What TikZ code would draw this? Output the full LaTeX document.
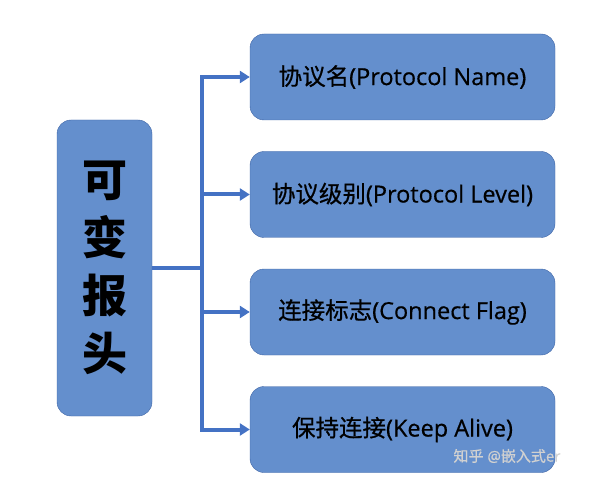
\documentclass[tikz,border=0pt]{standalone}
\usepackage{fontspec}
\setmainfont{Open Sans}[FakeBold=0.5]
\newfontfamily\cjk{Noto Sans CJK SC}[FakeBold=0.7]
\newfontfamily\cjkbold{Noto Sans CJK SC}
\usetikzlibrary{positioning,arrows.meta}
\definecolor{boxfill}{RGB}{100,143,205}
\definecolor{boxline}{RGB}{62,100,165}
\definecolor{linkblue}{RGB}{68,114,196}

\begin{document}
\begin{tikzpicture}[x=1pt,y=-1pt,node distance=117.5pt,on grid,
  field/.style={draw=boxline,fill=boxfill,rounded corners=14pt,minimum width=305pt,minimum height=86pt,font=\fontsize{23.5}{28}\selectfont},
  link/.style={draw=linkblue,line width=4pt,-{Triangle[length=10pt,width=12pt]}}]
 \useasboundingbox (0,0) rectangle (595,484);
 \node[field] (name) at (402.5,77) {{\cjk 协议名}(Protocol Name)};
 \node[field] (level) [below=of name] {{\cjk 协议级别}(Protocol Level)};
 \node[field] (flag) [below=of level] {{\cjk 连接标志}(Connect Flag)};
 \node[field] (alive) [below=of flag] {{\cjk 保持连接}(Keep Alive)};
 \node[draw=boxline,fill=boxfill,rounded corners=14pt,minimum width=95pt,minimum height=296pt,
   align=center,font=\fontsize{45}{58}\selectfont\cjkbold\bfseries] (head) at (104.5,268) {可\\变\\报\\头};
 \coordinate (j) at ([xshift=50pt]head.east);
 \draw[link,-] (head) -- (j);
 \foreach \n in {name,level,flag,alive}
  \draw[link] (j) |- (\n);
 \node[text=white!82!black,font=\fontsize{15}{17}\selectfont] (mark) at (507,456) {{\cjk 知乎} @{\cjk 嵌入式}er};
\end{tikzpicture}
\end{document}
